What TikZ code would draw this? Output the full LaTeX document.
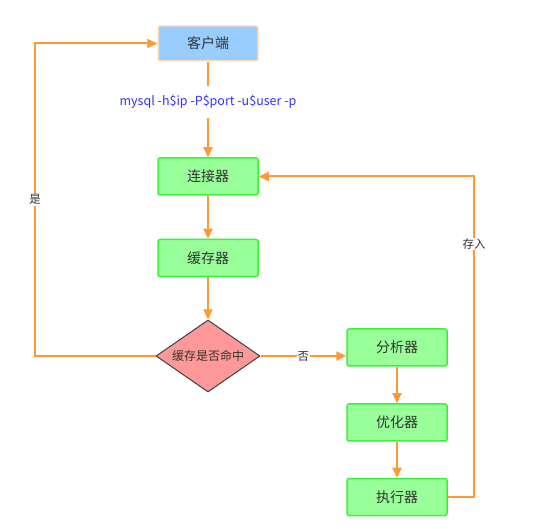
\documentclass[tikz,border=0pt]{standalone}
\usepackage{fontspec}
\setmainfont{Noto Sans CJK SC}
\usetikzlibrary{positioning, shapes.geometric, arrows.meta}

\definecolor{lineorange}{RGB}{255,153,51}
\definecolor{boxgreen}{RGB}{153,255,153}
\definecolor{edgegreen}{RGB}{60,240,60}

\begin{document}
\begin{tikzpicture}[x=1pt, y=-1pt, node distance=43pt]
	\tikzstyle{obj} = [draw=edgegreen, line width=1.5pt, fill=boxgreen, rounded corners=2pt, align=center, minimum width=100pt, minimum height=37pt, font=\fontsize{14}{16}\selectfont, text=black!80]
	\tikzstyle{arr} = [draw=lineorange, line width=2pt, -{Triangle[length=10pt,width=9pt]}]
	\tikzstyle{lbl} = [font=\fontsize{11.5}{13}\selectfont, fill=white, inner sep=1pt, text=black!80]
	\useasboundingbox (0,0) rectangle (544,529);

	\node[obj, draw={rgb,255:red,255;green,224;blue,190}, fill={rgb,255:red,153;green,204;blue,255}, minimum height=35pt] at (208,43.5) (client) {客户端};
	\node[obj] at (208,176.5) (conn) {连接器};
	\node[obj, below=of conn] (cache) {缓存器};
	\node[diamond, draw=black!75, line width=1pt, fill={rgb,255:red,255;green,153;blue,153}, aspect=1.44, inner sep=0pt, minimum width=104pt, minimum height=72pt, font=\fontsize{12}{14}\selectfont, text=black!80] at (208,356) (hit) {缓存是否命中};

	\node[obj] at (397,347.5) (parser) {分析器};
	\node[obj] at (397,422.5) (optim) {优化器};
	\node[obj] at (397,497) (exec) {执行器};

	\coordinate (lt) at (35,43.5);
	\coordinate (lb) at (35,356);
	\coordinate (rb) at (474,497);
	\coordinate (rt) at (474,176.5);

	\draw[arr] (client) -- node[pos=0.42, lbl, text={rgb,255:red,51;green,51;blue,255}, inner ysep=9pt, font=\fontsize{12.5}{14}\selectfont] {mysql -h\$ip -P\$port -u\$user -p} (conn);
	\draw[arr] (conn) -- (cache);
	\draw[arr] (cache) -- (hit);
	\draw[arr] (hit.east) -- node[pos=0.5, lbl] {否} (hit.east -| parser.west);
	\draw[arr] (parser) -- (optim);
	\draw[arr] (optim) -- (exec);

	\draw[arr] (hit.west) -- (lb) -- node[pos=0.5, lbl] {是} (lt) -- (client.west);
	\draw[arr] (exec.east) -- (rb) -- node[pos=0.79, lbl] {存入} (rt) -- (conn.east);
\end{tikzpicture}
\end{document}
